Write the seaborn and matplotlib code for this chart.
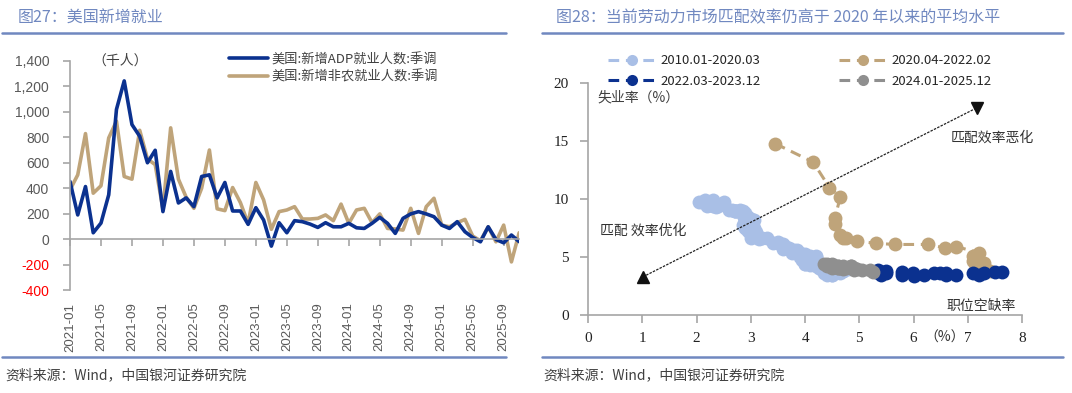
import numpy as np
import pandas as pd
import seaborn as sns
import matplotlib.pyplot as plt
from matplotlib.lines import Line2D

sns.set_style('ticks')
plt.rcParams['font.family'] = ['Noto Sans CJK SC', 'DejaVu Sans']
plt.rcParams['axes.unicode_minus'] = False

# ---------------- data: chart 27 ----------------
months = list(pd.date_range('2021-01', periods=59, freq='MS').strftime('%Y-%m'))
adp = [453, 190, 413, 50, 126, 348, 1019, 1243, 900, 808, 600, 698,
       216, 532, 284, 324, 255, 492, 505, 324, 445, 221, 221, 116,
       247, 150, -55, 129, 50, 145, 137, 118, 92, 129, 97, 97,
       124, 89, 84, 124, 171, 124, 45, 163, 198, 216, 198, 176,
       110, 84, 137, 58, 13, -21, 97, -3, -29, 32, -20]
nfp = [387, 505, 829, 361, 419, 795, 927, 492, 471, 855, 630, 585,
       235, 874, 471, 329, 242, 400, 700, 238, 224, 405, 287, 124,
       445, 308, 77, 216, 229, 255, 158, 158, 163, 190, 145, 275,
       124, 229, 242, 129, 198, 84, 80, 71, 242, 45, 255, 321,
       110, 97, 129, 155, 24, -13, 97, -21, 110, -179, 50]
yticks_left = [-400, -200, 0, 200, 400, 600, 800, 1000, 1200, 1400]

# ---------------- data: chart 28 ----------------
# (job openings rate, unemployment rate)
v_2010 = [2.05, 2.1, 2.15, 2.3, 2.35, 2.2, 2.3, 2.25, 2.3, 2.4, 2.5, 2.35,
          2.6, 2.7, 2.7, 2.65, 2.75, 2.8, 2.7, 2.85, 2.8, 2.9, 2.85, 2.95,
          3.0, 2.9, 3.05, 2.95, 2.9, 2.95, 2.9, 3.0, 2.85, 2.95, 2.9, 2.95,
          2.95, 3.0, 2.9, 2.95, 3.05, 3.0, 2.95, 3.05, 3.0, 3.1, 3.05, 3.0,
          3.15, 3.2, 3.3, 3.4, 3.5, 3.55, 3.5, 3.6, 3.65, 3.6, 3.7, 3.8,
          3.7, 3.8, 3.75, 3.9, 3.85, 4.0, 4.0, 3.95, 3.9, 4.0, 4.1, 3.95,
          3.95, 4.0, 4.05, 4.2, 4.1, 4.15, 4.0, 4.05, 4.2, 4.1, 4.0, 4.05,
          4.05, 4.1, 4.15, 4.0, 4.2, 4.1, 4.2, 4.15, 4.25, 4.2, 4.3, 4.25,
          4.3, 4.35, 4.4, 4.45, 4.5, 4.6, 4.55, 4.7, 4.6, 4.65, 4.55, 4.7,
          4.8, 4.6, 4.7, 4.6, 4.65, 4.5, 4.55, 4.45, 4.5, 4.4, 4.55, 4.35,
          4.4, 4.5, 4.0]
u_2010 = [9.8, 9.8, 9.9, 9.9, 9.6, 9.4, 9.4, 9.5, 9.5, 9.4, 9.8, 9.3,
          9.1, 9.0, 9.0, 9.1, 9.0, 9.1, 9.0, 9.0, 9.0, 8.8, 8.6, 8.5,
          8.3, 8.3, 8.2, 8.2, 8.2, 8.2, 8.2, 8.1, 7.8, 7.8, 7.7, 7.9,
          8.0, 7.7, 7.5, 7.6, 7.5, 7.5, 7.3, 7.2, 7.2, 7.2, 6.9, 6.7,
          6.6, 6.7, 6.7, 6.2, 6.3, 6.1, 6.2, 6.1, 5.9, 5.7, 5.8, 5.6,
          5.7, 5.5, 5.4, 5.4, 5.6, 5.3, 5.2, 5.1, 5.0, 5.0, 5.1, 5.0,
          4.8, 4.9, 5.0, 5.1, 4.8, 4.9, 4.8, 4.9, 5.0, 4.9, 4.7, 4.7,
          4.7, 4.6, 4.4, 4.4, 4.4, 4.3, 4.3, 4.4, 4.3, 4.2, 4.2, 4.1,
          4.0, 4.1, 4.0, 4.0, 3.8, 4.0, 3.8, 3.8, 3.7, 3.8, 3.8, 3.9,
          4.0, 3.8, 3.8, 3.7, 3.6, 3.6, 3.7, 3.6, 3.5, 3.6, 3.6, 3.6,
          3.5, 3.5, 4.4]
v_2020 = [3.45, 4.15, 4.45, 4.65, 4.55, 4.55, 4.65, 4.7, 4.75, 4.95, 5.3, 5.65,
          6.27, 6.58, 6.79, 7.21, 7.1, 7.1, 7.3, 7.15, 7.3, 7.2, 7.4]
u_2020 = [14.8, 13.2, 11.0, 10.2, 8.4, 7.9, 6.9, 6.7, 6.7, 6.4, 6.2, 6.1,
          6.1, 5.8, 5.9, 5.4, 5.1, 4.7, 4.5, 4.2, 3.9, 4.0, 3.8]
v_2022 = [7.62, 7.5, 7.3, 7.1, 7.2, 6.59, 6.79, 6.48, 6.37, 6.6, 6.19,
          5.98, 5.78, 6.0, 5.78, 5.5, 5.4, 5.45, 5.5, 5.35, 5.3, 5.38]
u_2022 = [3.7, 3.7, 3.6, 3.6, 3.5, 3.6, 3.5, 3.6, 3.6, 3.5, 3.45,
          3.6, 3.5, 3.4, 3.7, 3.6, 3.5, 3.7, 3.8, 3.9, 3.7, 3.7]
v_2024 = [5.25, 5.2, 5.05, 4.9, 4.95, 4.9, 4.7, 4.85, 4.75, 4.65, 4.85, 4.6,
          4.7, 4.6, 4.55, 4.6, 4.6, 4.5, 4.4, 4.45, 4.5, 4.4, 4.35]
u_2024 = [3.7, 3.9, 3.9, 3.9, 4.0, 4.1, 4.2, 4.2, 4.1, 4.1, 4.2, 4.1,
          4.0, 4.1, 4.2, 4.2, 4.2, 4.1, 4.2, 4.3, 4.4, 4.4, 4.45]
periods = ['2010.01-2020.03', '2020.04-2022.02', '2022.03-2023.12', '2024.01-2025.12']
period_colors = ['#a9bfe6', '#bfa47a', '#0b318f', '#8f8f8f']
arrow_x = [1.01, 7.17]
arrow_y = [3.3, 17.9]

grey = '#a6a6a6'
title_col = '#7088c0'

fig = plt.figure(figsize=(10.72, 3.93), dpi=100)

# ---------------- left chart ----------------
ax1 = fig.add_axes([0.0653, 0.262, 0.419, 0.583])
idx = np.arange(len(months))
sns.lineplot(x=idx, y=nfp, ax=ax1, color='#bfa47a', lw=2.6, label='美国:新增非农就业人数:季调')
sns.lineplot(x=idx, y=adp, ax=ax1, color='#0b318f', lw=2.6, label='美国:新增ADP就业人数:季调')
ax1.set_xlim(0, len(months) - 1)
ax1.set_ylim(-400, 1400)
for s in ['top', 'right']:
    ax1.spines[s].set_visible(False)
ax1.spines['left'].set_color(grey)
ax1.spines['bottom'].set_color(grey)
ax1.spines['left'].set_linewidth(1.2)
ax1.spines['bottom'].set_linewidth(1.2)
ax1.spines['bottom'].set_position(('data', 0))
ax1.set_yticks(yticks_left, [f'{v:,}' for v in yticks_left])
ax1.tick_params(axis='y', length=5, width=1.2, color=grey, pad=10,
                labelsize=10, labelcolor='#595959')
for lab, v in zip(ax1.get_yticklabels(), yticks_left):
    lab.set_fontfamily('Liberation Sans')
    if v < 0:
        lab.set_color('#ff0000')
ax1.set_xticks(idx[::4])
ax1.set_xticklabels([])
ax1.tick_params(axis='x', length=5, width=1.2, color=grey)
sec = ax1.secondary_xaxis(0.0)
sec.set_xticks(idx[::4], labels=months[::4], rotation=90)
sec.tick_params(length=0, pad=9, labelsize=9.5, labelcolor='#595959')
for lab in sec.get_xticklabels():
    lab.set_fontfamily('Liberation Sans')
for s in sec.spines.values():
    s.set_visible(False)
ax1.text(0.05, 1.0, '（千人）', transform=ax1.transAxes, fontsize=10,
         color='#404040', va='center', ha='left')
h, l = ax1.get_legend_handles_labels()
ax1.legend(h[::-1], l[::-1], loc='upper left', bbox_to_anchor=(0.355, 1.035),
           frameon=False, fontsize=9.5, handlelength=2.9, handletextpad=0.3,
           labelspacing=0.35, borderaxespad=0, borderpad=0, labelcolor='#404040')

# ---------------- right chart ----------------
ax2 = fig.add_axes([0.5485, 0.198, 0.405, 0.590])
series = [(v_2010, u_2010), (v_2020, u_2020), (v_2022, u_2022), (v_2024, u_2024)]
for (vx, uy), lab, col in zip(series, periods, period_colors):
    sns.lineplot(x=vx, y=uy, ax=ax2, sort=False, estimator=None, color=col,
                 lw=2.2, linestyle=(0, (3.5, 2.2)), marker='o', markersize=10,
                 markeredgewidth=0, label=lab)
ax2.plot(arrow_x, arrow_y, color='#222222', lw=0.9, linestyle=(0, (2, 1)))
ax2.plot(arrow_x[0], arrow_y[0], marker='^', color='#111111', markersize=9)
ax2.plot(arrow_x[1], arrow_y[1], marker='v', color='#111111', markersize=9)
ax2.set_xlim(0, 8)
ax2.set_ylim(0, 20)
ax2.set_xticks(range(0, 9))
ax2.set_yticks([0, 5, 10, 15, 20])
for s in ['top', 'right']:
    ax2.spines[s].set_visible(False)
for s in ['left', 'bottom']:
    ax2.spines[s].set_color(grey)
    ax2.spines[s].set_linewidth(1.2)
ax2.tick_params(length=6, width=1.2, color=grey, labelsize=11, labelcolor='#222222')
ax2.tick_params(axis='y', pad=8)
ax2.tick_params(axis='x', pad=6)
for lab in ax2.get_xticklabels() + ax2.get_yticklabels():
    lab.set_fontfamily('Liberation Serif')
ax2.text(0.18, 18.8, '失业率（%）', fontsize=10, color='#404040', va='center')
ax2.text(6.69, 15.3, '匹配效率恶化', fontsize=10, color='#333333', va='center')
ax2.text(0.22, 7.3, '匹配 效率优化', fontsize=10, color='#333333', va='center')
ax2.text(6.6, 0.75, '职位空缺率', fontsize=10, color='#333333', va='center')
ax2.text(6.2, -1.9, '（%）', fontsize=10, color='#333333', va='center')
h, l = ax2.get_legend_handles_labels()
order = [0, 2, 1, 3]
ax2.legend([h[i] for i in order], [l[i] for i in order], ncol=2, loc='upper left',
           bbox_to_anchor=(0.046, 1.125), frameon=False, fontsize=9.5,
           handlelength=3.6, handletextpad=0.35, columnspacing=6.0, markerscale=0.8,
           labelspacing=0.55, borderaxespad=0, borderpad=0)

# ---------------- titles, rules, sources ----------------
fig.text(0.0168, 0.954, '图27：美国新增就业', fontsize=11.5, color=title_col, va='center')
fig.text(0.5187, 0.954, '图28：当前劳动力市场匹配效率仍高于 2020 年以来的平均水平',
         fontsize=11.5, color=title_col, va='center')
for x0, x1 in [(2, 506), (542, 1063)]:
    for yy in [0.916, 0.0916]:
        fig.add_artist(Line2D([x0 / 1072, x1 / 1072], [yy, yy],
                              transform=fig.transFigure, color=title_col, lw=1.8))
fig.text(0.005, 0.046, '资料来源：Wind，中国银河证券研究院', fontsize=10,
         color='#404040', va='center')
fig.text(0.5065, 0.046, '资料来源：Wind，中国银河证券研究院', fontsize=10,
         color='#404040', va='center')

fig.savefig('out.png', dpi=100)
